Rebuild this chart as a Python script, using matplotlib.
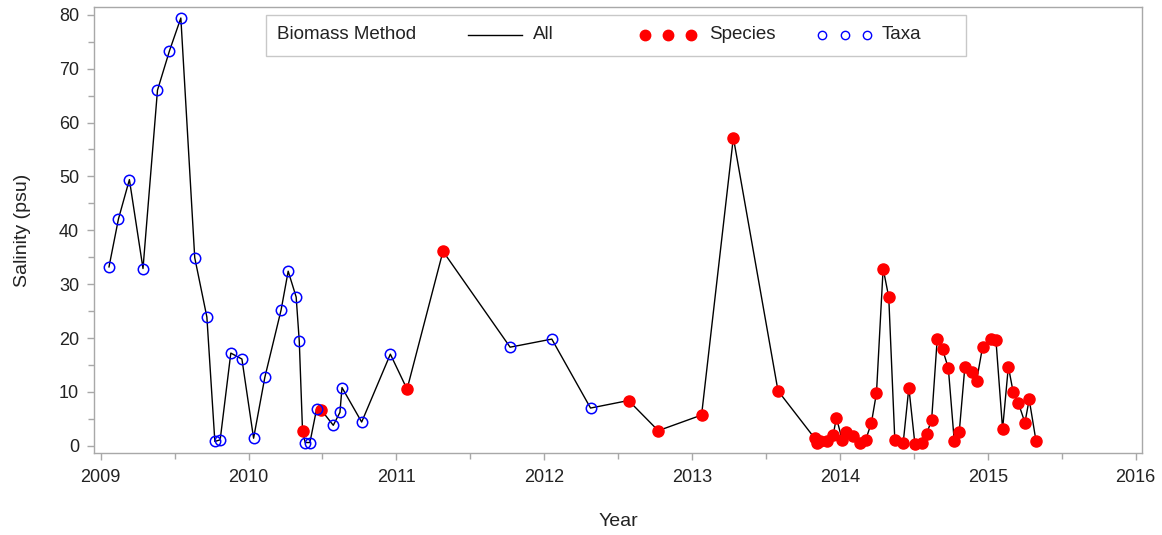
import numpy as np
import matplotlib
matplotlib.use("Agg")
import matplotlib.pyplot as plt
from matplotlib.patches import Rectangle
from matplotlib.lines import Line2D
from matplotlib.ticker import MultipleLocator

plt.rcParams["font.family"] = ["Liberation Sans", "DejaVu Sans"]

# sampling date (decimal year), salinity (psu) and biomass method per sample
year = [2009.056, 2009.120, 2009.194, 2009.286, 2009.384, 2009.465, 2009.542,
        2009.636, 2009.718, 2009.772, 2009.808, 2009.880, 2009.955, 2010.034,
        2010.110, 2010.220, 2010.268, 2010.322, 2010.343, 2010.365, 2010.383,
        2010.415, 2010.460, 2010.490, 2010.573, 2010.618, 2010.632, 2010.765,
        2010.959, 2011.072, 2011.315, 2011.769, 2012.051, 2012.313, 2012.570,
        2012.771, 2013.064, 2013.279, 2013.581, 2013.829, 2013.845, 2013.863,
        2013.909, 2013.954, 2013.976, 2014.015, 2014.044, 2014.089, 2014.134,
        2014.173, 2014.213, 2014.247, 2014.292, 2014.330, 2014.371, 2014.428,
        2014.466, 2014.507, 2014.552, 2014.586, 2014.620, 2014.658, 2014.694,
        2014.733, 2014.773, 2014.807, 2014.845, 2014.890, 2014.924, 2014.965,
        2015.019, 2015.055, 2015.100, 2015.139, 2015.172, 2015.206, 2015.251,
        2015.280, 2015.326]

salinity = [33.2, 42.1, 49.4, 32.9, 66.0, 73.3, 79.4,
            34.9, 23.9, 0.8, 1.1, 17.2, 16.1, 1.4,
            12.7, 25.2, 32.4, 27.6, 19.4, 2.8, 0.6,
            0.6, 6.8, 6.7, 3.8, 6.2, 10.8, 4.4,
            17.0, 10.5, 36.1, 18.3, 19.8, 7.0, 8.4,
            2.8, 5.7, 57.2, 10.2, 1.4, 0.6, 0.8,
            0.8, 2.0, 5.2, 1.1, 2.5, 1.9, 0.5,
            1.0, 4.3, 9.8, 32.9, 27.6, 1.1, 0.6,
            10.8, 0.3, 0.6, 2.2, 4.8, 19.9, 17.9,
            14.4, 0.9, 2.6, 14.7, 13.6, 12.1, 18.4,
            19.9, 19.6, 3.1, 14.7, 9.9, 8.0, 4.3,
            8.6, 0.9]

method = (["Taxa"] * 19 + ["Species"] + ["Taxa"] * 3 + ["Species"] + ["Taxa"] * 5
          + ["Species"] * 2 + ["Taxa"] * 3 + ["Species"] * 45)

year = np.array(year)
salinity = np.array(salinity)
method = np.array(method)
is_species = method == "Species"

fig = plt.figure(figsize=(11.62, 5.35), dpi=100)
ax = fig.add_axes([0.0812, 0.1527, 0.9016, 0.8348])

ax.plot(year, salinity, color="black", linewidth=1.0, zorder=2)
ax.plot(year[is_species], salinity[is_species], linestyle="none", marker="o",
        markersize=8, markerfacecolor="red", markeredgecolor="red", zorder=3)
ax.plot(year[~is_species], salinity[~is_species], linestyle="none", marker="o",
        markersize=7.5, markerfacecolor="none", markeredgecolor="blue",
        markeredgewidth=1.1, zorder=4)

ax.set_xlim(2008.957, 2016.043)
ax.set_ylim(-1.4, 81.5)
ax.xaxis.set_major_locator(MultipleLocator(1))
ax.xaxis.set_minor_locator(MultipleLocator(0.5))
ax.yaxis.set_major_locator(MultipleLocator(10))
ax.yaxis.set_minor_locator(MultipleLocator(5))

spine_col = "#a8a8a8"
for s in ax.spines.values():
    s.set_color(spine_col)
    s.set_linewidth(1.0)
ax.tick_params(which="major", length=5, width=1, color=spine_col,
               labelsize=13, labelcolor="#222222", pad=6)
ax.tick_params(which="minor", length=4, width=1, color=spine_col)

ax.set_xlabel("Year", fontsize=14, color="#222222", labelpad=20)
ax.set_ylabel("Salinity (psu)", fontsize=14, color="#222222", labelpad=20)

# legend box drawn by hand, SAS style: title on the left, entries in one row
tr = ax.transAxes
ax.add_patch(Rectangle((0.1636, 0.8896), 0.6684, 0.0918, transform=tr,
                       facecolor="white", edgecolor="#c8c8c8", linewidth=1.0,
                       zorder=5, clip_on=False))
ty = 0.9367
ax.text(0.174, ty, "Biomass Method", transform=tr, fontsize=13.5,
        va="center", ha="left", color="#222222", zorder=6)
ax.add_line(Line2D([0.357, 0.408], [ty, ty], transform=tr, color="black",
                   linewidth=1.0, zorder=6))
ax.text(0.4187, ty, "All", transform=tr, fontsize=13.5, va="center",
        ha="left", color="#222222", zorder=6)
ax.add_line(Line2D([0.5257, 0.5476, 0.5696], [ty] * 3, transform=tr,
                   linestyle="none", marker="o", markersize=7.5,
                   markerfacecolor="red", markeredgecolor="red", zorder=6))
ax.text(0.5867, ty, "Species", transform=tr, fontsize=13.5, va="center",
        ha="left", color="#222222", zorder=6)
ax.add_line(Line2D([0.6946, 0.7161, 0.7376], [ty] * 3, transform=tr,
                   linestyle="none", marker="o", markersize=6,
                   markerfacecolor="none", markeredgecolor="blue",
                   markeredgewidth=1.0, zorder=6))
ax.text(0.7519, ty, "Taxa", transform=tr, fontsize=13.5, va="center",
        ha="left", color="#222222", zorder=6)

fig.savefig("out.png", dpi=100)
